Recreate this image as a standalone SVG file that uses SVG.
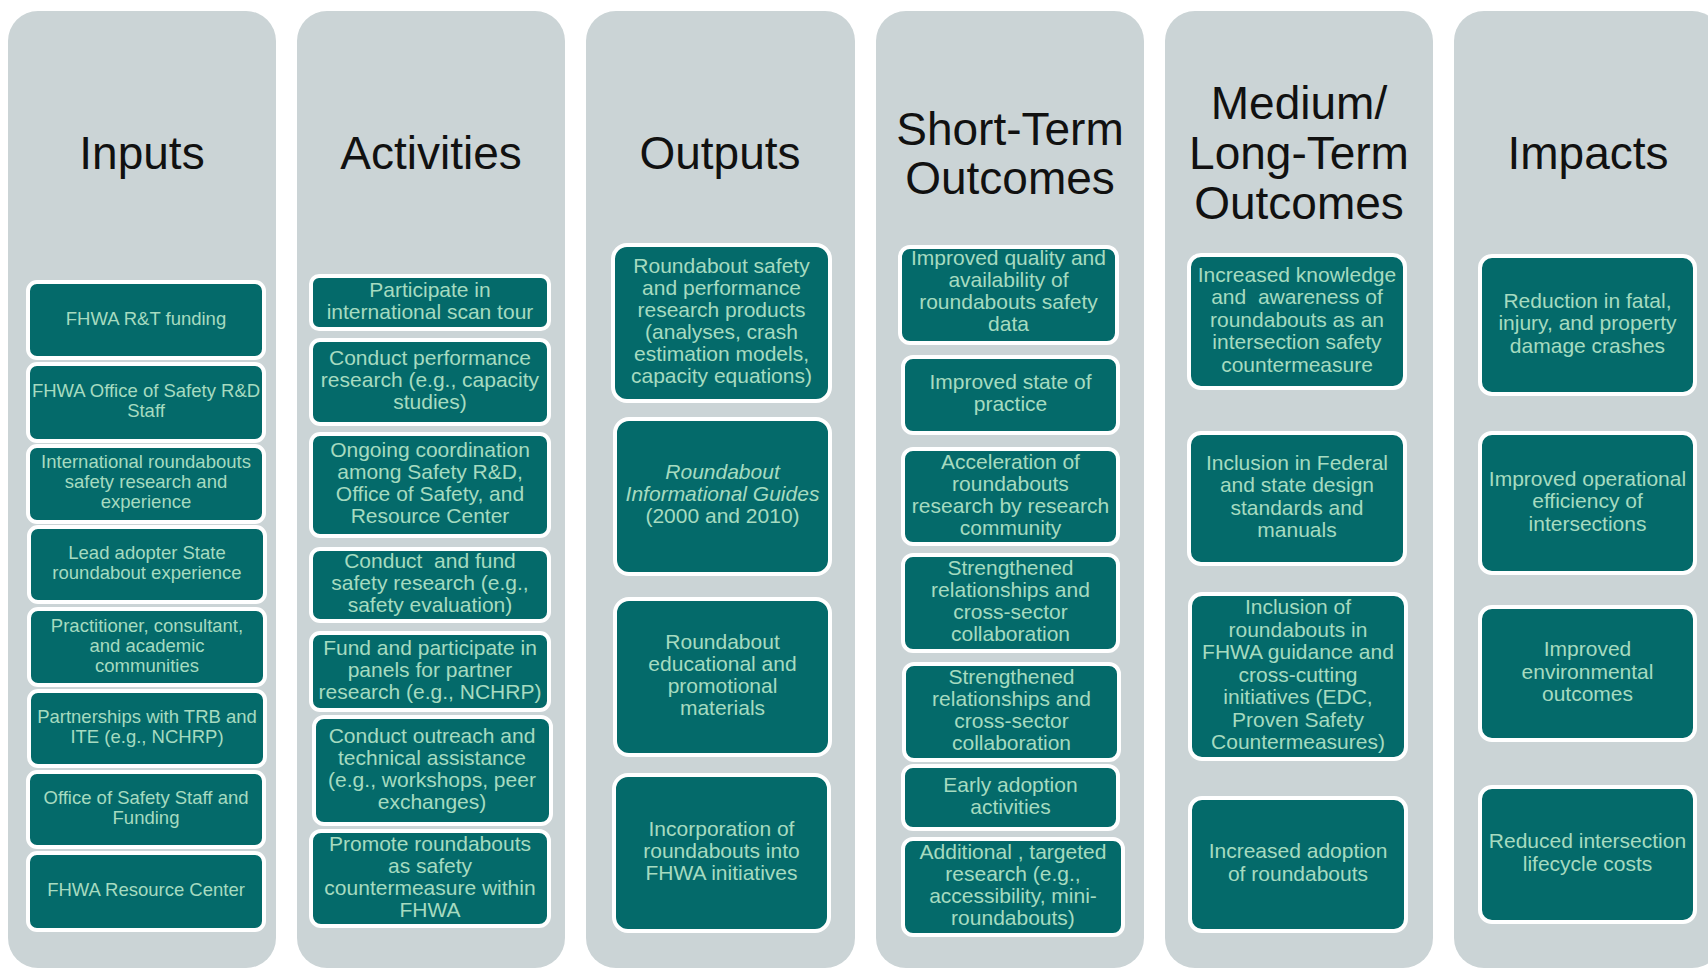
<svg xmlns="http://www.w3.org/2000/svg" width="1708" height="970" viewBox="0 0 1708 970">
<style>
.col{fill:#CBD4D6}
.title{font-family:"Liberation Sans",Arial,sans-serif;font-size:46px;fill:#111;text-anchor:middle}
.box{fill:#046A6A;stroke:#FFFFFF;stroke-width:4}
.t{font-family:"Liberation Sans",Arial,sans-serif;font-size:21px;fill:#A6DBC0;text-anchor:middle;white-space:pre;transform:translateY(-2px)}
.ts{font-size:18.5px}
.it{font-style:italic}
</style>
<rect width="1708" height="970" fill="#FFFFFF"/>

<g id="col-inputs">
<rect class="col" x="8" y="11" width="268" height="957" rx="30"/>
<text class="title" x="142" y="169">Inputs</text>
</g>
<g id="col-activities">
<rect class="col" x="297" y="11" width="268" height="957" rx="30"/>
<text class="title" x="431" y="169">Activities</text>
</g>
<g id="col-outputs">
<rect class="col" x="586" y="11" width="269" height="957" rx="30"/>
<text class="title" x="720" y="169">Outputs</text>
</g>
<g id="col-short">
<rect class="col" x="876" y="11" width="268" height="957" rx="30"/>
<text class="title" x="1010" y="145">Short-Term</text>
<text class="title" x="1010" y="194">Outcomes</text>
</g>
<g id="col-medium">
<rect class="col" x="1165" y="11" width="268" height="957" rx="30"/>
<text class="title" x="1299" y="119">Medium/</text>
<text class="title" x="1299" y="169">Long-Term</text>
<text class="title" x="1299" y="219">Outcomes</text>
</g>
<g id="col-impacts">
<rect class="col" x="1454" y="11" width="268" height="957" rx="30"/>
<text class="title" x="1588" y="169">Impacts</text>
</g>

<!-- Inputs -->
<g id="in1"><rect class="box" x="28" y="282" width="236" height="76" rx="9"/>
<text class="t ts" x="146" y="326.5">FHWA R&amp;T funding</text></g>
<g id="in2"><rect class="box" x="28" y="364" width="236" height="77" rx="9"/>
<text class="t ts" x="146" y="399">FHWA Office of Safety R&amp;D</text>
<text class="t ts" x="146" y="419">Staff</text></g>
<g id="in3"><rect class="box" x="28" y="446" width="236" height="76" rx="9"/>
<text class="t ts" x="146" y="470">International roundabouts</text>
<text class="t ts" x="146" y="490">safety research and</text>
<text class="t ts" x="146" y="510">experience</text></g>
<g id="in4"><rect class="box" x="29" y="527" width="236" height="75" rx="9"/>
<text class="t ts" x="147" y="561">Lead adopter State</text>
<text class="t ts" x="147" y="581">roundabout experience</text></g>
<g id="in5"><rect class="box" x="29" y="609" width="236" height="76" rx="9"/>
<text class="t ts" x="147" y="633.5">Practitioner, consultant,</text>
<text class="t ts" x="147" y="653.5">and academic</text>
<text class="t ts" x="147" y="673.5">communities</text></g>
<g id="in6"><rect class="box" x="29" y="691" width="236" height="75" rx="9"/>
<text class="t ts" x="147" y="725">Partnerships with TRB and</text>
<text class="t ts" x="147" y="745">ITE (e.g., NCHRP)</text></g>
<g id="in7"><rect class="box" x="28" y="772" width="236" height="75" rx="9"/>
<text class="t ts" x="146" y="806">Office of Safety Staff and</text>
<text class="t ts" x="146" y="826">Funding</text></g>
<g id="in8"><rect class="box" x="28" y="853" width="236" height="77" rx="9"/>
<text class="t ts" x="146" y="898">FHWA Resource Center</text></g>

<!-- Activities -->
<g id="act1"><rect class="box" x="311" y="276" width="238" height="53" rx="8"/>
<text class="t" x="430" y="298.5">Participate in</text>
<text class="t" x="430" y="320.5">international scan tour</text></g>
<g id="act2"><rect class="box" x="311" y="340" width="238" height="84" rx="9"/>
<text class="t" x="430" y="367">Conduct performance</text>
<text class="t" x="430" y="389">research (e.g., capacity</text>
<text class="t" x="430" y="411">studies)</text></g>
<g id="act3"><rect class="box" x="311" y="434" width="238" height="102" rx="9"/>
<text class="t" x="430" y="459">Ongoing coordination</text>
<text class="t" x="430" y="481">among Safety R&amp;D,</text>
<text class="t" x="430" y="503">Office of Safety, and</text>
<text class="t" x="430" y="525">Resource Center</text></g>
<g id="act4"><rect class="box" x="311" y="549" width="238" height="72" rx="9"/>
<text class="t" x="430" y="570">Conduct  and fund</text>
<text class="t" x="430" y="592">safety research (e.g.,</text>
<text class="t" x="430" y="614">safety evaluation)</text></g>
<g id="act5"><rect class="box" x="311" y="633" width="238" height="77" rx="9"/>
<text class="t" x="430" y="656.5">Fund and participate in</text>
<text class="t" x="430" y="678.5">panels for partner</text>
<text class="t" x="430" y="700.5">research (e.g., NCHRP)</text></g>
<g id="act6"><rect class="box" x="314" y="717" width="237" height="107" rx="10"/>
<text class="t" x="432" y="744.5">Conduct outreach and</text>
<text class="t" x="432" y="766.5">technical assistance</text>
<text class="t" x="432" y="788.5">(e.g., workshops, peer</text>
<text class="t" x="432" y="810.5">exchanges)</text></g>
<g id="act7"><rect class="box" x="311" y="831" width="238" height="95" rx="10"/>
<text class="t" x="430" y="852.5">Promote roundabouts</text>
<text class="t" x="430" y="874.5">as safety</text>
<text class="t" x="430" y="896.5">countermeasure within</text>
<text class="t" x="430" y="918.5">FHWA</text></g>

<!-- Outputs -->
<g id="out1"><rect class="box" x="613" y="245" width="217" height="156" rx="14"/>
<text class="t" x="721.5" y="275">Roundabout safety</text>
<text class="t" x="721.5" y="297">and performance</text>
<text class="t" x="721.5" y="319">research products</text>
<text class="t" x="721.5" y="341">(analyses, crash</text>
<text class="t" x="721.5" y="363">estimation models,</text>
<text class="t" x="721.5" y="385">capacity equations)</text></g>
<g id="out2"><rect class="box" x="615" y="419" width="215" height="155" rx="14"/>
<text class="t it" x="722.5" y="481">Roundabout</text>
<text class="t it" x="722.5" y="503">Informational Guides</text>
<text class="t" x="722.5" y="525">(2000 and 2010)</text></g>
<g id="out3"><rect class="box" x="615" y="599" width="215" height="156" rx="14"/>
<text class="t" x="722.5" y="651">Roundabout</text>
<text class="t" x="722.5" y="673">educational and</text>
<text class="t" x="722.5" y="695">promotional</text>
<text class="t" x="722.5" y="717">materials</text></g>
<g id="out4"><rect class="box" x="614" y="775" width="215" height="156" rx="14"/>
<text class="t" x="721.5" y="838">Incorporation of</text>
<text class="t" x="721.5" y="860">roundabouts into</text>
<text class="t" x="721.5" y="882">FHWA initiatives</text></g>

<!-- Short-Term Outcomes -->
<g id="st1"><rect class="box" x="900" y="247" width="217" height="96" rx="10"/>
<text class="t" x="1008.5" y="267">Improved quality and</text>
<text class="t" x="1008.5" y="289">availability of</text>
<text class="t" x="1008.5" y="311">roundabouts safety</text>
<text class="t" x="1008.5" y="333">data</text></g>
<g id="st2"><rect class="box" x="903" y="357" width="215" height="76" rx="10"/>
<text class="t" x="1010.5" y="391">Improved state of</text>
<text class="t" x="1010.5" y="413">practice</text></g>
<g id="st3"><rect class="box" x="903" y="449" width="215" height="95" rx="10"/>
<text class="t" x="1010.5" y="470.5">Acceleration of</text>
<text class="t" x="1010.5" y="492.5">roundabouts</text>
<text class="t" x="1010.5" y="514.5">research by research</text>
<text class="t" x="1010.5" y="536.5">community</text></g>
<g id="st4"><rect class="box" x="903" y="555" width="215" height="96" rx="10"/>
<text class="t" x="1010.5" y="577">Strengthened</text>
<text class="t" x="1010.5" y="599">relationships and</text>
<text class="t" x="1010.5" y="621">cross-sector</text>
<text class="t" x="1010.5" y="643">collaboration</text></g>
<g id="st5"><rect class="box" x="904" y="664" width="215" height="96" rx="10"/>
<text class="t" x="1011.5" y="686">Strengthened</text>
<text class="t" x="1011.5" y="708">relationships and</text>
<text class="t" x="1011.5" y="730">cross-sector</text>
<text class="t" x="1011.5" y="752">collaboration</text></g>
<g id="st6"><rect class="box" x="903" y="766" width="215" height="63" rx="10"/>
<text class="t" x="1010.5" y="793.5">Early adoption</text>
<text class="t" x="1010.5" y="815.5">activities</text></g>
<g id="st7"><rect class="box" x="903" y="839" width="220" height="96" rx="10"/>
<text class="t" x="1013" y="861">Additional , targeted</text>
<text class="t" x="1013" y="883">research (e.g.,</text>
<text class="t" x="1013" y="905">accessibility, mini-</text>
<text class="t" x="1013" y="927">roundabouts)</text></g>

<!-- Medium/Long-Term Outcomes -->
<g id="mt1"><rect class="box" x="1189" y="255" width="216" height="133" rx="12"/>
<text class="t" x="1297" y="283.5">Increased knowledge</text>
<text class="t" x="1297" y="306">and  awareness of</text>
<text class="t" x="1297" y="328.5">roundabouts as an</text>
<text class="t" x="1297" y="351">intersection safety</text>
<text class="t" x="1297" y="373.5">countermeasure</text></g>
<g id="mt2"><rect class="box" x="1189" y="433" width="216" height="131" rx="12"/>
<text class="t" x="1297" y="471.75">Inclusion in Federal</text>
<text class="t" x="1297" y="494.25">and state design</text>
<text class="t" x="1297" y="516.75">standards and</text>
<text class="t" x="1297" y="539.25">manuals</text></g>
<g id="mt3"><rect class="box" x="1190" y="594" width="216" height="165" rx="12"/>
<text class="t" x="1298" y="616">Inclusion of</text>
<text class="t" x="1298" y="638.5">roundabouts in</text>
<text class="t" x="1298" y="661">FHWA guidance and</text>
<text class="t" x="1298" y="683.5">cross-cutting</text>
<text class="t" x="1298" y="706">initiatives (EDC,</text>
<text class="t" x="1298" y="728.5">Proven Safety</text>
<text class="t" x="1298" y="751">Countermeasures)</text></g>
<g id="mt4"><rect class="box" x="1190" y="798" width="216" height="133" rx="12"/>
<text class="t" x="1298" y="860.25">Increased adoption</text>
<text class="t" x="1298" y="882.75">of roundabouts</text></g>

<!-- Impacts -->
<g id="im1"><rect class="box" x="1480" y="256" width="215" height="138" rx="12"/>
<text class="t" x="1587.5" y="309.5">Reduction in fatal,</text>
<text class="t" x="1587.5" y="332">injury, and property</text>
<text class="t" x="1587.5" y="354.5">damage crashes</text></g>
<g id="im2"><rect class="box" x="1480" y="433" width="215" height="140" rx="12"/>
<text class="t" x="1587.5" y="487.5">Improved operational</text>
<text class="t" x="1587.5" y="510">efficiency of</text>
<text class="t" x="1587.5" y="532.5">intersections</text></g>
<g id="im3"><rect class="box" x="1480" y="607" width="215" height="133" rx="12"/>
<text class="t" x="1587.5" y="658">Improved</text>
<text class="t" x="1587.5" y="680.5">environmental</text>
<text class="t" x="1587.5" y="703">outcomes</text></g>
<g id="im4"><rect class="box" x="1480" y="787" width="215" height="135" rx="12"/>
<text class="t" x="1587.5" y="850.25">Reduced intersection</text>
<text class="t" x="1587.5" y="872.75">lifecycle costs</text></g>
</svg>
